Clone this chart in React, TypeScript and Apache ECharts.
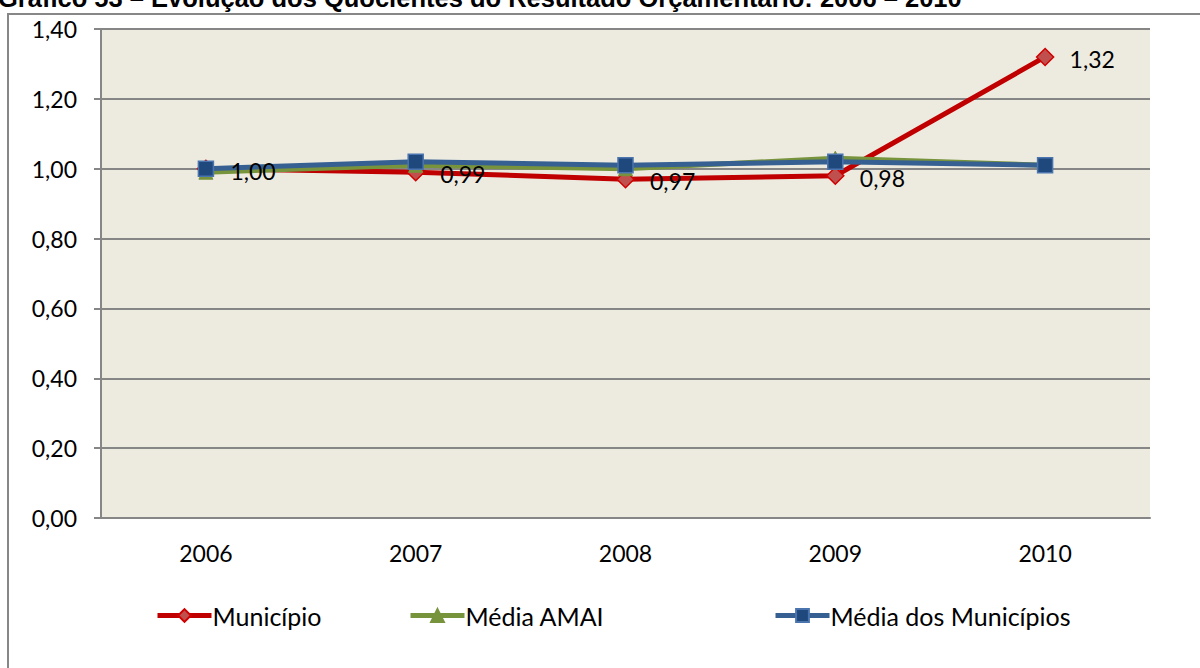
import React, { useEffect, useRef } from "react";
import * as echarts from "echarts";

const categories = ["2006", "2007", "2008", "2009", "2010"];
const municipio = [1.0, 0.99, 0.97, 0.98, 1.32];
const mediaAmai = [0.99, 1.01, 1.0, 1.03, 1.01];
const mediaMunicipios = [1.0, 1.02, 1.01, 1.02, 1.01];
const titleText = "Gráfico 53 – Evolução dos Quocientes do Resultado Orçamentário: 2006 – 2010";

const FONT = "Lato";
const fmt = (v: number) => v.toFixed(2).replace(".", ",");

export default function App() {
  const ref = useRef<HTMLDivElement>(null);
  useEffect(() => {
    document.body.style.margin = "0";
    const chart = echarts.init(ref.current!, undefined, { renderer: "svg" });
    const legendBase = {
      top: 598,
      itemWidth: 54,
      itemHeight: 16,
      itemGap: 0,
      lineStyle: { width: 5 },
      textStyle: { fontFamily: FONT, fontSize: 25, color: "#000", padding: [0, 0, 0, -4] },
    };
    chart.setOption({
      animation: false,
      backgroundColor: "#fff",
      graphic: [
        {
          type: "rect",
          shape: { x: 8, y: 14, width: 1400, height: 900 },
          style: { fill: "none", stroke: "#878787", lineWidth: 2 },
          silent: true,
        },
        {
          type: "text",
          x: -2,
          y: -15,
          style: {
            text: titleText,
            font: "bold 25.5px 'Liberation Sans', Arial, sans-serif",
            fill: "#000",
            textVerticalAlign: "top",
          },
        },
      ],
      grid: { left: 101, right: 50, top: 29, bottom: 150, backgroundColor: "#EDEBE0", show: true, borderWidth: 0 },
      xAxis: {
        type: "category",
        data: categories,
        axisLine: { lineStyle: { color: "#868686", width: 2 } },
        axisTick: { show: false },
        axisLabel: { fontFamily: FONT, fontSize: 23, color: "#000", margin: 23 },
      },
      yAxis: {
        type: "value",
        min: 0,
        max: 1.4,
        interval: 0.2,
        axisLine: { show: true, lineStyle: { color: "#868686", width: 2 } },
        axisTick: { show: true, length: 7, lineStyle: { color: "#868686", width: 2 } },
        splitLine: { lineStyle: { color: "#868686", width: 2 } },
        axisLabel: { fontFamily: FONT, fontSize: 23, color: "#000", margin: 24, formatter: (v: number) => fmt(v) },
      },
      legend: [
        { ...legendBase, left: 150, data: ["Município"] },
        { ...legendBase, left: 403, data: ["Média AMAI"] },
        { ...legendBase, left: 768, data: ["Média dos Municípios"] },
      ],
      series: [
        {
          name: "Município",
          type: "line",
          data: municipio,
          z: 2,
          symbol: "diamond",
          symbolSize: 17,
          lineStyle: { color: "#C00000", width: 5 },
          itemStyle: { color: "#C0504D", borderColor: "#D00000", borderWidth: 1.5 },
        },
        {
          name: "Média AMAI",
          type: "line",
          data: mediaAmai,
          z: 3,
          symbol: "triangle",
          symbolSize: 14,
          lineStyle: { color: "#77933C", width: 5 },
          itemStyle: { color: "#77933C", borderColor: "#77933C", borderWidth: 1 },
        },
        {
          name: "Média dos Municípios",
          type: "line",
          data: mediaMunicipios,
          z: 4,
          symbol: "rect",
          symbolSize: 15,
          lineStyle: { color: "#376092", width: 5 },
          itemStyle: { color: "#1F497D", borderColor: "#4A74AD", borderWidth: 1.5 },
        },
        {
          name: "Município rótulos",
          type: "line",
          data: municipio,
          z: 10,
          silent: true,
          symbol: "diamond",
          symbolSize: 17,
          lineStyle: { opacity: 0 },
          itemStyle: { color: "transparent", borderWidth: 0 },
          label: {
            show: true,
            position: "right",
            distance: 16,
            offset: [0, 2],
            fontFamily: FONT,
            fontSize: 23,
            color: "#000",
            formatter: (p: any) => fmt(p.value),
          },
        },
      ],
    });
    return () => chart.dispose();
  }, []);
  return <div ref={ref} style={{ width: 1200, height: 668 }} />;
}
